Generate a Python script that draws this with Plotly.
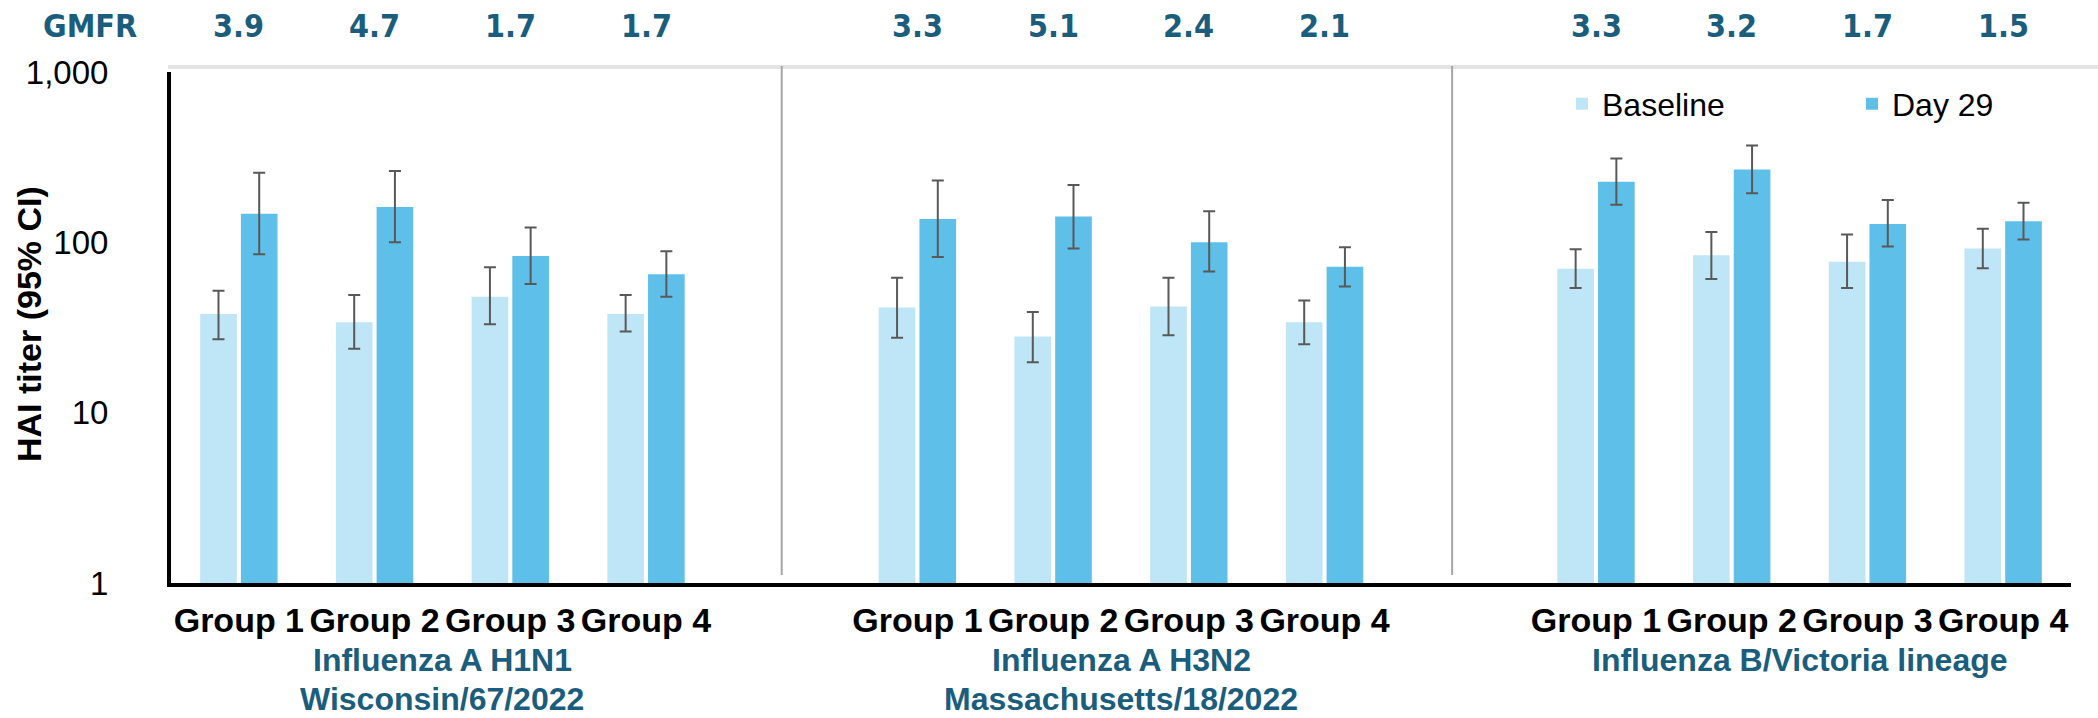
import plotly.graph_objects as go

# ---------------- data ----------------
strains_line1 = ["Influenza A H1N1", "Influenza A H3N2", "Influenza B/Victoria lineage"]
strains_line2 = ["Wisconsin/67/2022", "Massachusetts/18/2022", ""]
groups = ["Group 1", "Group 2", "Group 3", "Group 4"]

baseline = [38, 34, 48, 38, 41.5, 28, 42, 34, 70, 84, 77, 92]
baseline_upper = [52, 49, 71.5, 49, 62, 39, 62, 45.5, 91, 115, 111, 120]
baseline_lower = [27, 23.7, 33, 30, 27.5, 19.8, 28.5, 25.2, 54, 61, 54, 70.5]

day29 = [147, 161, 83, 65, 137, 142, 100, 72, 227, 268, 128, 133]
day29_upper = [256, 262, 122, 88.5, 231, 217, 152, 93.5, 311, 370, 177, 171]
day29_lower = [85, 100, 57, 48, 82, 92, 67.5, 55, 166, 194, 94.5, 104]

gmfr = ["3.9", "4.7", "1.7", "1.7", "3.3", "5.1", "2.4", "2.1", "3.3", "3.2", "1.7", "1.5"]

y_tickvals = [1, 10, 100, 1000]
y_ticktext = ["1", "10", "100", "1,000"]

# ---------------- layout helpers ----------------
W, H = 2098, 718
ML, MR, MT, MB = 171, 27, 72, 135
PH = H - MT - MB
PW = W - ML - MR


def py(pix):  # pixel y -> paper y
    return (H - MB - pix) / PH


def pxx(pix):  # pixel x -> paper x
    return (pix - ML) / PW


TEAL = "#1a5d7c"
FONT = "Liberation Sans, Arial, sans-serif"
NARROW = "Liberation Sans Narrow, Arial Narrow, DejaVu Sans Condensed, sans-serif"

xpos = []
for p in range(len(strains_line1)):
    for g in range(len(groups)):
        xpos.append(p * (len(groups) + 1) + g)
xlabels = [groups[i % len(groups)] for i in range(len(xpos))]

fig = go.Figure()
fig.add_trace(go.Bar(
    name="Baseline", x=xpos, y=baseline,
    marker=dict(color="#bfe6f6", line=dict(width=0)),
    error_y=dict(type="data", symmetric=False,
                 array=[u - v for u, v in zip(baseline_upper, baseline)],
                 arrayminus=[v - l for v, l in zip(baseline, baseline_lower)],
                 color="#595959", thickness=2, width=6),
))
fig.add_trace(go.Bar(
    name="Day 29", x=xpos, y=day29,
    marker=dict(color="#5ebfe8", line=dict(width=0)),
    error_y=dict(type="data", symmetric=False,
                 array=[u - v for u, v in zip(day29_upper, day29)],
                 arrayminus=[v - l for v, l in zip(day29, day29_lower)],
                 color="#595959", thickness=2, width=6),
))

annotations = []
# GMFR row
annotations.append(dict(text="<b>GMFR</b>", xref="paper", yref="paper",
                        x=pxx(90), y=py(26), showarrow=False,
                        xanchor="center", yanchor="middle",
                        font=dict(family=NARROW, size=32, color=TEAL)))
for xv, gv in zip(xpos, gmfr):
    annotations.append(dict(text="<b>%s</b>" % gv, xref="x", yref="paper",
                            x=xv, y=py(26), showarrow=False,
                            xanchor="center", yanchor="middle",
                            font=dict(family=NARROW, size=32, color=TEAL)))
# strain labels
for p, (l1, l2) in enumerate(zip(strains_line1, strains_line2)):
    xc = p * (len(groups) + 1) + (len(groups) - 1) / 2
    annotations.append(dict(text="<b>%s</b>" % l1, xref="x", yref="paper",
                            x=xc, y=py(660), showarrow=False,
                            xanchor="center", yanchor="middle",
                            font=dict(family=FONT, size=32, color=TEAL)))
    if l2:
        annotations.append(dict(text="<b>%s</b>" % l2, xref="x", yref="paper",
                                x=xc, y=py(699), showarrow=False,
                                xanchor="center", yanchor="middle",
                                font=dict(family=FONT, size=32, color=TEAL)))
# y-axis title
annotations.append(dict(text="<b>HAI titer (95% CI)</b>", xref="paper", yref="paper",
                        x=pxx(29), y=py(324), showarrow=False, textangle=-90,
                        xanchor="center", yanchor="middle",
                        font=dict(family=FONT, size=34, color="#000000")))

shapes = []
# light gray top rule
shapes.append(dict(type="line", xref="paper", yref="paper",
                   x0=pxx(168), x1=pxx(W), y0=py(67), y1=py(67),
                   line=dict(color="#e3e3e3", width=4)))
# panel separators
for sx in [len(groups), 2 * len(groups) + 0.94]:
    shapes.append(dict(type="line", xref="x", yref="paper",
                       x0=sx, x1=sx, y0=py(575), y1=py(66),
                       line=dict(color="#a6a6a6", width=2)))

fig.update_layout(
    width=W, height=H,
    margin=dict(l=ML, r=MR, t=MT, b=MB, autoexpand=False),
    paper_bgcolor="white", plot_bgcolor="white",
    barmode="group", bargap=0.4, bargroupgap=0.1,
    font=dict(family=FONT, size=28, color="#000000"),
    showlegend=True,
    legend=dict(orientation="h", x=pxx(1562), xanchor="left",
                y=py(104), yanchor="middle",
                font=dict(family=FONT, size=32, color="#000000"),
                entrywidth=245, entrywidthmode="pixels",
                bgcolor="rgba(0,0,0,0)", traceorder="normal"),
    annotations=annotations,
    shapes=shapes,
    xaxis=dict(range=[-0.5, 13.5], tickvals=xpos,
               ticktext=["<b>%s</b>" % t for t in xlabels],
               tickfont=dict(family=FONT, size=34, color="#000000"),
               showgrid=False, zeroline=False, showline=True,
               linecolor="#000000", linewidth=4, ticks="",
               ticklabelstandoff=4, fixedrange=True),
    yaxis=dict(type="log", range=[0, 3], tickvals=y_tickvals, ticktext=y_ticktext,
               tickfont=dict(family=FONT, size=33, color="#000000"),
               showgrid=False, zeroline=False, showline=True,
               linecolor="#000000", linewidth=4, ticks="",
               ticklabelstandoff=52, fixedrange=True),
)

fig.write_html("out.html")
